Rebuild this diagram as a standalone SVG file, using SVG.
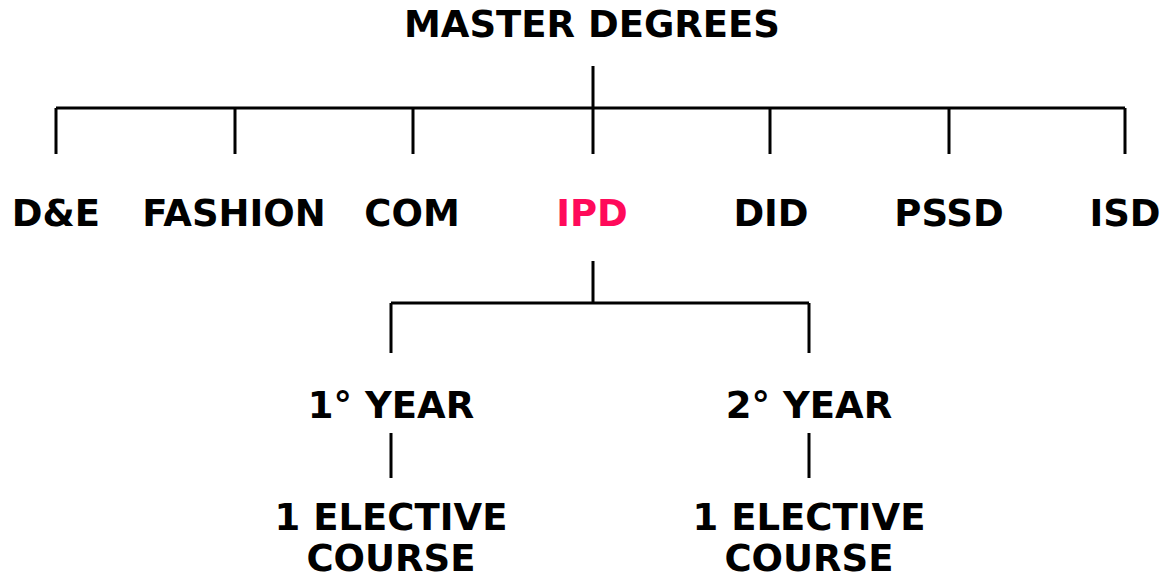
<svg xmlns="http://www.w3.org/2000/svg" width="1163" height="581" viewBox="0 0 1163 581">
<style>
text{font-family:"DejaVu Sans","Liberation Sans",sans-serif;font-weight:bold;font-size:37px;text-anchor:middle;fill:#000}
.hl{fill:#FF0A5A}
.c{stroke:#000;stroke-width:3;fill:none}
</style>
<rect width="1163" height="581" fill="#fff"/>
<g id="connectors" class="c">
<path d="M593 66V108M56 108H1125M56 108V154M235 108V154M413 108V154M593 108V154M770 108V154M949 108V154M1125 108V154"/>
<path d="M593 261V303M391 303H809M391 303V353M809 303V353"/>
<path d="M391 433V478M809 433V478"/>
</g>
<g id="root"><text x="592" y="37">MASTER DEGREES</text></g>
<g id="de"><text x="56" y="226">D&amp;E</text></g>
<g id="fashion"><text x="234" y="226">FASHION</text></g>
<g id="com"><text x="412" y="226">COM</text></g>
<g id="ipd"><text class="hl" x="592" y="226">IPD</text></g>
<g id="did"><text x="771" y="226">DID</text></g>
<g id="pssd"><text x="949" y="226">PSSD</text></g>
<g id="isd"><text x="1125" y="226">ISD</text></g>
<g id="year1"><text x="391" y="418">1° YEAR</text></g>
<g id="year2"><text x="809" y="418">2° YEAR</text></g>
<g id="elective1"><text x="391" y="530">1 ELECTIVE</text><text x="391" y="571">COURSE</text></g>
<g id="elective2"><text x="809" y="530">1 ELECTIVE</text><text x="809" y="571">COURSE</text></g>
</svg>
